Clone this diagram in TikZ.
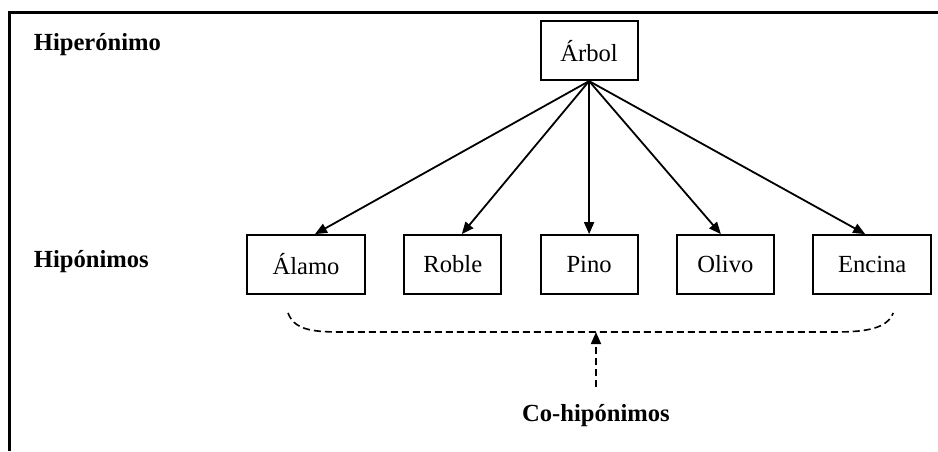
\documentclass[tikz,border=0pt]{standalone}
\usepackage{fontspec}
\setmainfont{Liberation Serif}
\usetikzlibrary{arrows.meta,positioning}

\begin{document}
\begin{tikzpicture}[
    x = 0.5pt, y = -0.5pt, % one unit = one pixel of the sketch
    > = {Triangle[length=6pt,width=5pt]}, % arrow head style
    node distance = 18.75pt, % gap between the hyponym boxes
    line width = 0.9pt % line style
    ]

    \tikzset{word/.style={
    draw = black,
    fill = white,
    font = \fontsize{12.3}{14}\selectfont,
    minimum width = 48.5pt,
    minimum height = 29.5pt
    },
    wide/.style={minimum width = 59pt},
    tag/.style={font = \fontsize{12.3}{14}\selectfont\bfseries, inner sep = 0pt},
    brace/.style={dash pattern = on 3.5pt off 2pt, line width = 0.8pt}
    }

    \useasboundingbox (0,0) rectangle (938,451);
    \draw[line width = 1.5pt] (9,451) -- (9,12) -- (938,12);

    \node[word, wide] (alamo) at (306,264.5) {Álamo};
    \node[word] (roble) [right=of alamo] {Roble};
    \node[word] (pino) [right=of roble] {Pino};
    \node[word] (olivo) [right=of pino] {Olivo};
    \node[word, wide] (encina) [right=of olivo] {Encina};
    \node[word] (arbol) [above=76.5pt of pino] {Árbol};

    \node[tag, anchor=base west] (hiper) at (33,50) {Hiperónimo};
    \node[tag, anchor=base west] (hipo) at (33,267) {Hipónimos};
    \node[tag, anchor=base] (cohipo) at (596,421) {Co-hipónimos};

    \path[->] (arbol.south) edge ([xshift=4.5pt]alamo.north)
                            edge ([xshift=4.5pt]roble.north)
                            edge (pino.north)
                            edge ([xshift=-2.25pt]olivo.north)
                            edge ([xshift=-3.5pt]encina.north);

    % the dashed brace under the hyponyms
    \coordinate (bl) at ([xshift=-9pt,yshift=-9pt]alamo.south);
    \coordinate (br) at ([xshift=10.5pt,yshift=-9pt]encina.south);
    \coordinate (b1) at (340,332);
    \coordinate (b2) at (835,332);
    \draw[brace] (bl) .. controls +(6,16) and +(-30,0) .. (b1) -- (b2)
                      .. controls +(30,0) and +(-6,16) .. (br);

    \draw[->, brace, shorten <= 8pt] (cohipo.north) -- (cohipo.north |- b1);
\end{tikzpicture}
\end{document}
